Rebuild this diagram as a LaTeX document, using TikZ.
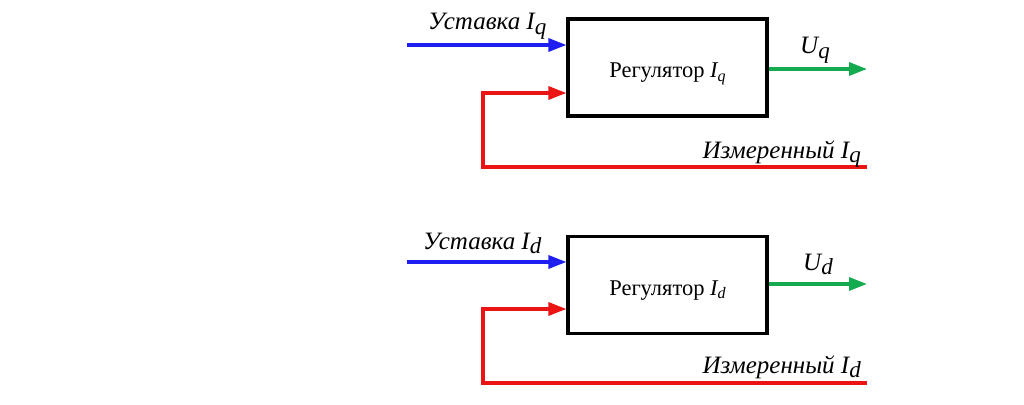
\documentclass[tikz,border=0pt]{standalone}
\usepackage{fontspec}
\setmainfont{Liberation Serif}
\usetikzlibrary{arrows.meta}
\definecolor{cblue}{RGB}{30,30,240}
\definecolor{cred}{RGB}{235,20,20}
\definecolor{cgreen}{RGB}{20,170,80}
\newcommand{\isub}[3]{#1\raisebox{-0.17em}{\fontsize{#3}{#3}\selectfont #2}}
\tikzset{
  blockbox/.style={draw=black, line width=3.2pt, minimum width=199pt, minimum height=97pt, inner sep=0pt},
  boxtext/.style={font=\fontsize{22.5}{24}\selectfont, inner sep=0pt},
  sig/.style={line width=3.2pt, -{Triangle[length=18pt,width=13pt]}},
  lbl/.style={font=\fontsize{25}{27}\selectfont\itshape, inner sep=0pt},
}
\begin{document}
\begin{tikzpicture}[x=1pt,y=-1pt]
\useasboundingbox (0,0) rectangle (1024,404);
% top
\node[blockbox] (b1) at (667.5,67.5) {};
\node[boxtext, anchor=base] (t1) at ([yshift=-10pt]b1.center) {Регулятор \textit{\isub{I}{q}{16}}};
\coordinate (in1) at (407,45);
\coordinate (out1) at (867,69);
\coordinate (fb1) at (867,167);
\draw[sig, cblue] (in1) -- (in1 -| b1.west);
\draw[sig, cgreen] (b1.east |- out1) -- (out1);
\draw[sig, cred] (fb1) -- (483,167) -- (483,93) -- (b1.west |- 0,93);
\node[lbl, anchor=base west] (l1) at (428,30) {\isub{Уставка I}{q}{23}};
\node[lbl, anchor=base west] (u1) at (800,54) {\isub{U}{q}{23}};
\node[lbl, anchor=base east] (m1) at (861,158) {\isub{Измеренный I}{q}{23}};
% bottom
\node[blockbox] (b2) at (667.5,285) {};
\node[boxtext, anchor=base] (t2) at ([yshift=-10pt]b2.center) {Регулятор \textit{\isub{I}{d}{16}}};
\coordinate (in2) at (407,262);
\coordinate (out2) at (867,284);
\coordinate (fb2) at (867,383);
\draw[sig, cblue] (in2) -- (in2 -| b2.west);
\draw[sig, cgreen] (b2.east |- out2) -- (out2);
\draw[sig, cred] (fb2) -- (483,383) -- (483,309) -- (b2.west |- 0,309);
\node[lbl, anchor=base west] (l2) at (423,249) {\isub{Уставка I}{d}{23}};
\node[lbl, anchor=base west] (u2) at (803,270) {\isub{U}{d}{23}};
\node[lbl, anchor=base east] (m2) at (861,373) {\isub{Измеренный I}{d}{23}};
\end{tikzpicture}
\end{document}
